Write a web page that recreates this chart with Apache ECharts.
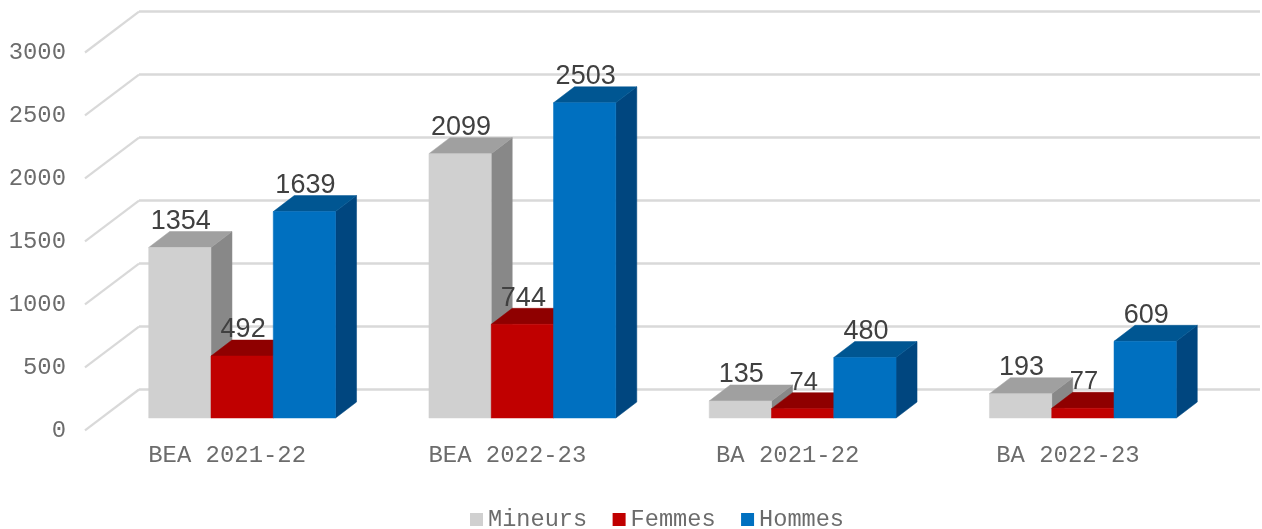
<!DOCTYPE html>
<html><head><meta charset="utf-8">
<style>html,body{margin:0;padding:0;background:#fff}#c{width:1262px;height:529px}</style>
<script src="https://cdn.jsdelivr.net/npm/echarts@6/dist/echarts.min.js"></script>
</head><body><div id="c"></div>
<script>
const categories = ['BEA 2021-22','BEA 2022-23','BA 2021-22','BA 2022-23'];
const mineurs = [1354,2099,135,193];
const femmes = [492,744,74,77];
const hommes = [1639,2503,480,609];
const yTicks = [0,500,1000,1500,2000,2500,3000];
const seriesNames = ['Mineurs','Femmes','Hommes'];
const frontColors = ['#d0d0d0','#c00000','#0070c0'];
const topColors = ['#a0a0a0','#8f0000','#005692'];
const sideColors = ['#888888','#7a0000','#00467f'];

const WALL_DX = 54, WALL_DY = 40.8;   // back wall to front edge of the floor
const BAR_DX = 37, BAR_DY = 28.5;     // back wall to bar front plane
const DEPTH_DX = 21, DEPTH_DY = 16;   // bar depth
const MONO = '"Liberation Mono","Courier New",monospace';
const MONO_SIZE = 23.9, MONO_COLOR = '#6c6c6c';
const GRID_W = 1121, GRID_H = 377.8;

function barSeries(idx, values) {
  return {
    type: 'custom', name: seriesNames[idx], xAxisIndex: 0, yAxisIndex: 0,
    itemStyle: { color: frontColors[idx] },
    data: values.map((v, i) => [i, v]),
    renderItem(params, api) {
      const cat = api.value(0), val = api.value(1);
      const top = api.coord([cat, val]), base = api.coord([cat, 0]);
      const w = api.size([1, 0])[0] * 2 / 9;
      const x0 = top[0] + (idx - 1.5) * w - BAR_DX, x1 = x0 + w;
      const yT = top[1] + BAR_DY, yB = base[1] + BAR_DY;
      const dx = DEPTH_DX, dy = DEPTH_DY;
      const poly = (points, fill) => ({ type: 'polygon', shape: { points }, style: { fill, stroke: fill, lineWidth: 0.5 } });
      return { type: 'group', children: [
        poly([[x1,yT],[x1+dx,yT-dy],[x1+dx,yB-dy],[x1,yB]], sideColors[idx]),
        poly([[x0,yT],[x0+dx,yT-dy],[x1+dx,yT-dy],[x1,yT]], topColors[idx]),
        poly([[x0,yT],[x1,yT],[x1,yB],[x0,yB]], frontColors[idx]),
        { type: 'text', z2: 100, style: {
            text: String(val), x: (x0 + x1) / 2 + 1, y: yT - 26,
            align: 'center', verticalAlign: 'middle',
            fontFamily: '"Liberation Sans",Arial,sans-serif',
            fontSize: val < 100 ? 25.5 : 27, fill: '#404040' } }
      ]};
    }
  };
}

const chart = echarts.init(document.getElementById('c'), null, { renderer: 'canvas' });
chart.setOption({
  animation: false,
  backgroundColor: '#fff',
  grid: [
    { left: 139, top: 11.7, width: GRID_W, height: GRID_H, outerBoundsMode: 'none' },
    { left: 87, top: 52.5, width: GRID_W, height: GRID_H, outerBoundsMode: 'none' }
  ],
  xAxis: [
    { type: 'category', gridIndex: 0, data: categories, show: false },
    { type: 'category', gridIndex: 1, data: categories,
      axisLine: { show: false }, axisTick: { show: false },
      axisLabel: { margin: 13, color: MONO_COLOR, fontFamily: MONO, fontSize: MONO_SIZE, interval: 0 } }
  ],
  yAxis: [
    { type: 'value', gridIndex: 0, min: 0, max: 3000, interval: 500,
      axisLine: { show: false }, axisTick: { show: false }, axisLabel: { show: false },
      splitLine: { lineStyle: { color: '#d9d9d9', width: 2.5 } } },
    { type: 'value', gridIndex: 1, min: 0, max: 3000, interval: 500,
      axisLine: { show: false }, axisTick: { show: false }, splitLine: { show: false },
      axisLabel: { margin: 21, color: MONO_COLOR, fontFamily: MONO, fontSize: MONO_SIZE,
                   formatter: v => String(v) } }
  ],
  legend: {
    left: 470, top: 507.5, icon: 'rect', itemWidth: 13, itemHeight: 13, itemGap: 25.5,
    padding: 0,
    textStyle: { color: MONO_COLOR, fontFamily: MONO, fontSize: 23.6 },
    data: seriesNames
  },
  series: [
    { type: 'custom', name: 'wall', silent: true, xAxisIndex: 0, yAxisIndex: 0,
      data: yTicks.map(t => [0, t]),
      renderItem(params, api) {
        const p = api.coord([0, api.value(1)]);
        const x = params.coordSys.x;
        return { type: 'line',
          shape: { x1: x, y1: p[1], x2: x - WALL_DX, y2: p[1] + WALL_DY },
          style: { stroke: '#d9d9d9', lineWidth: 2.2 } };
      } },
    barSeries(0, mineurs),
    barSeries(1, femmes),
    barSeries(2, hommes)
  ]
});
</script></body></html>
